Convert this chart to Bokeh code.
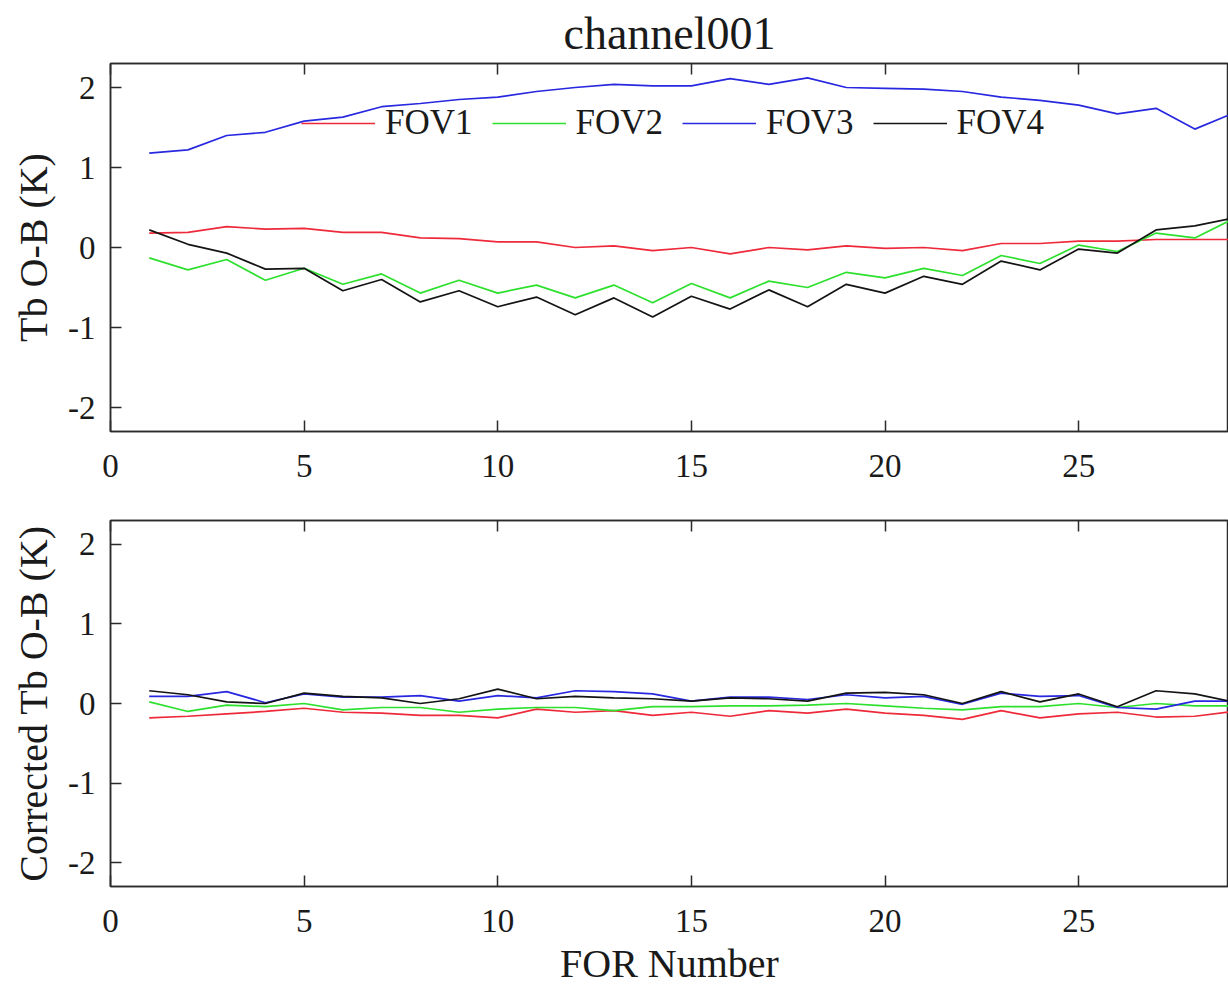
from bokeh.plotting import figure
from bokeh.layouts import column
from bokeh.models import (Range1d, LinearAxis, FixedTicker, Legend, LegendItem,
                          Title, CustomJSTickFormatter)
from bokeh.embed import file_html
from bokeh.resources import INLINE

# ---------------- data ----------------
for_number = list(range(1, 30))

top_fov1 = [0.18, 0.19, 0.26, 0.23, 0.24, 0.19, 0.19, 0.12, 0.11, 0.07,
            0.07, 0.00, 0.02, -0.04, 0.00, -0.08, 0.00, -0.03, 0.02, -0.01,
            0.00, -0.04, 0.05, 0.05, 0.08, 0.08, 0.10, 0.10, 0.10]
top_fov2 = [-0.13, -0.28, -0.15, -0.41, -0.26, -0.46, -0.33, -0.57, -0.41, -0.57,
            -0.47, -0.63, -0.47, -0.69, -0.45, -0.63, -0.42, -0.50, -0.31, -0.38,
            -0.26, -0.35, -0.10, -0.20, 0.03, -0.05, 0.18, 0.12, 0.36]
top_fov3 = [1.18, 1.22, 1.40, 1.44, 1.58, 1.63, 1.76, 1.80, 1.85, 1.88,
            1.95, 2.00, 2.04, 2.02, 2.02, 2.11, 2.04, 2.12, 2.00, 1.99,
            1.98, 1.95, 1.88, 1.84, 1.78, 1.67, 1.74, 1.48, 1.68]
top_fov4 = [0.22, 0.04, -0.07, -0.27, -0.26, -0.54, -0.40, -0.68, -0.54, -0.74,
            -0.62, -0.84, -0.63, -0.87, -0.61, -0.77, -0.53, -0.74, -0.46, -0.57,
            -0.36, -0.46, -0.17, -0.28, -0.02, -0.07, 0.22, 0.27, 0.37]

bot_fov1 = [-0.18, -0.16, -0.13, -0.10, -0.06, -0.11, -0.12, -0.15, -0.15, -0.18,
            -0.07, -0.11, -0.09, -0.15, -0.11, -0.16, -0.09, -0.12, -0.07, -0.12,
            -0.15, -0.20, -0.09, -0.18, -0.13, -0.11, -0.17, -0.16, -0.10]
bot_fov2 = [0.02, -0.10, -0.02, -0.04, 0.00, -0.08, -0.05, -0.05, -0.11, -0.07,
            -0.05, -0.05, -0.09, -0.04, -0.04, -0.03, -0.03, -0.02, 0.00, -0.03,
            -0.06, -0.08, -0.04, -0.04, 0.00, -0.05, 0.00, -0.03, -0.03]
bot_fov3 = [0.09, 0.09, 0.15, 0.01, 0.12, 0.08, 0.08, 0.10, 0.03, 0.10,
            0.07, 0.16, 0.15, 0.12, 0.03, 0.08, 0.08, 0.05, 0.11, 0.07,
            0.09, -0.01, 0.13, 0.09, 0.10, -0.05, -0.07, 0.03, 0.03]
bot_fov4 = [0.16, 0.11, 0.02, 0.00, 0.13, 0.09, 0.07, 0.00, 0.06, 0.18,
            0.06, 0.09, 0.07, 0.06, 0.03, 0.07, 0.06, 0.03, 0.13, 0.14,
            0.11, 0.00, 0.15, 0.02, 0.12, -0.04, 0.16, 0.12, 0.02]

series_names = ["FOV1", "FOV2", "FOV3", "FOV4"]
x_ticks = [0, 5, 10, 15, 20, 25, 30]
y_ticks = [-2, -1, 0, 1, 2]

# ---------------- style ----------------
FONT = "Liberation Serif"
COLORS = ["#ee2a3a", "#2ee02e", "#2828e0", "#141414"]
AX = "#2b2b2b"


def make_fig(height, top_b, bottom_b, ylabel, xlabel=None):
    p = figure(width=1228, height=height, output_backend="svg", toolbar_location=None,
               x_range=Range1d(0, 28.87), y_range=Range1d(-2.3, 2.3),
               min_border_left=110, min_border_right=0,
               min_border_top=top_b, min_border_bottom=bottom_b)
    p.xgrid.visible = False
    p.ygrid.visible = False
    p.outline_line_color = AX
    p.outline_line_width = 1.5
    p.background_fill_color = "white"
    p.border_fill_color = "white"
    for ax in (p.xaxis[0], p.yaxis[0]):
        ax.axis_line_color = AX
        ax.axis_line_width = 1.5
        ax.major_tick_line_color = AX
        ax.major_tick_line_width = 1.5
        ax.major_tick_in = 11
        ax.major_tick_out = 0
        ax.minor_tick_line_color = None
        ax.major_label_text_font = FONT
        ax.major_label_text_font_size = "33px"
        ax.major_label_text_color = "#1a1a1a"
        ax.axis_label_text_font = FONT
        ax.axis_label_text_font_size = "40px"
        ax.axis_label_text_font_style = "normal"
        ax.axis_label_text_color = "#1a1a1a"
        ax.formatter = CustomJSTickFormatter(code="return tick.toString();")
    p.xaxis[0].ticker = FixedTicker(ticks=x_ticks)
    p.yaxis[0].ticker = FixedTicker(ticks=y_ticks)
    p.xaxis[0].major_label_standoff = 23
    p.yaxis[0].major_label_standoff = 15
    p.yaxis[0].axis_label = ylabel
    p.yaxis[0].axis_label_standoff = 9
    if xlabel:
        p.xaxis[0].axis_label = xlabel
        p.xaxis[0].axis_label_standoff = 6
    # top ticks (box style)
    top = LinearAxis(ticker=FixedTicker(ticks=x_ticks),
                     formatter=CustomJSTickFormatter(code="return '';"),
                     major_label_text_font_size="1px", major_label_standoff=0,
                     axis_line_color=AX, axis_line_width=1.5,
                     major_tick_line_color=AX, major_tick_line_width=1.5,
                     major_tick_in=11, major_tick_out=0, minor_tick_line_color=None)
    p.add_layout(top, "above")
    return p


# ---------------- top panel ----------------
p1 = make_fig(495, 63, 64, "Tb O-B (K)")
p1.title = Title(text="channel001", align="center", text_font=FONT,
                 text_font_size="46px", text_font_style="normal",
                 text_color="#1a1a1a", standoff=10)
renderers = []
for ys, c in zip([top_fov1, top_fov2, top_fov3, top_fov4], COLORS):
    renderers.append(p1.line(for_number, ys, line_color=c, line_width=1.7))

legend = Legend(items=[LegendItem(label=n, renderers=[r]) for n, r in zip(series_names, renderers)],
                orientation="horizontal", location=(191, 288),
                glyph_width=74, glyph_height=36, label_height=36,
                label_standoff=10, spacing=19, padding=0, margin=0,
                label_text_font=FONT, label_text_font_size="35px",
                label_text_color="#1a1a1a",
                border_line_color=None, background_fill_alpha=0)
p1.add_layout(legend)

# ---------------- bottom panel ----------------
p2 = make_fig(493, 25, 100, "Corrected Tb O-B (K)", "FOR Number")
for ys, c in zip([bot_fov1, bot_fov2, bot_fov3, bot_fov4], COLORS):
    p2.line(for_number, ys, line_color=c, line_width=1.7)

layout = column(p1, p2, spacing=0)
open("out.html", "w").write(file_html(layout, INLINE))
